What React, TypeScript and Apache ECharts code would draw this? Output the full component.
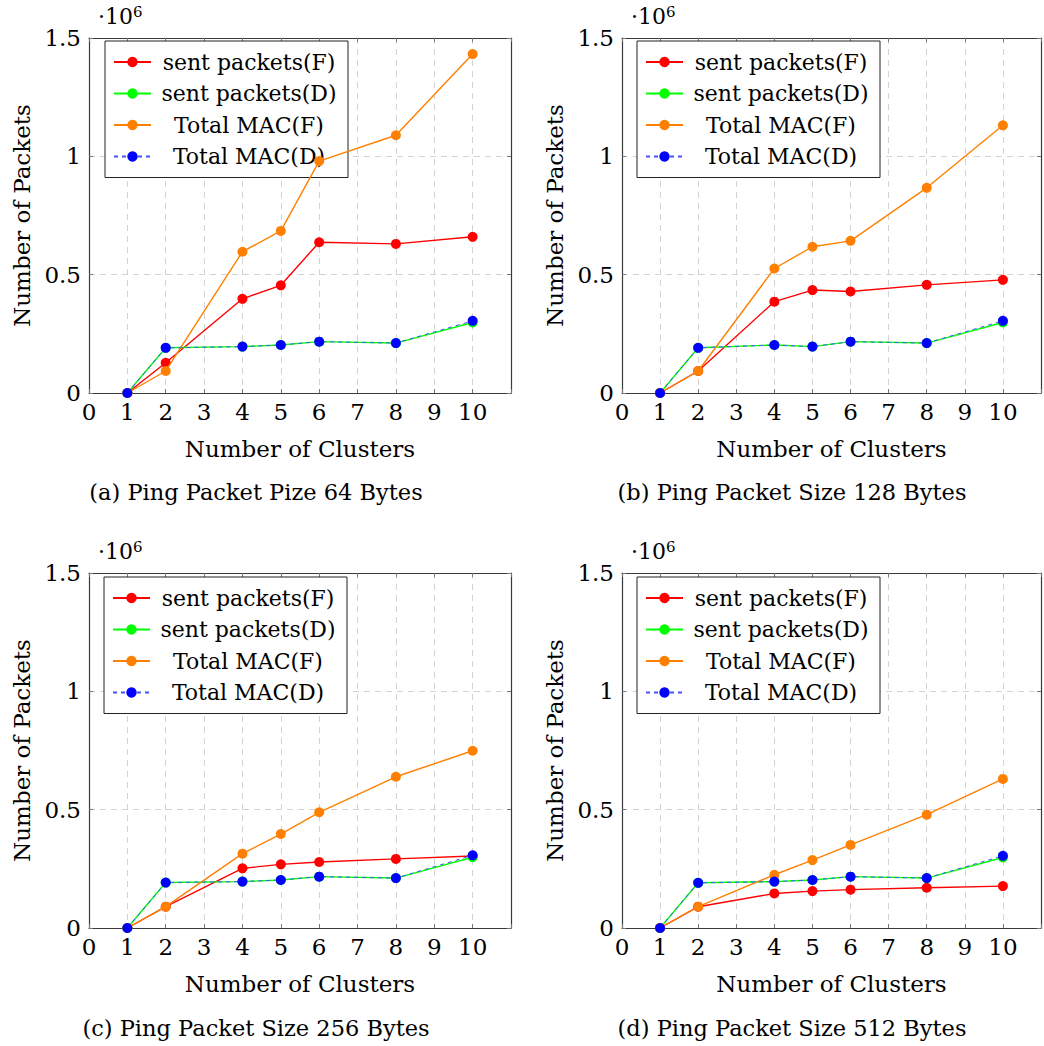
import React, { useEffect, useRef } from "react";
import * as echarts from "echarts";

const clusters = [1, 2, 4, 5, 6, 8, 10];
const xTicks = [0, 1, 2, 3, 4, 5, 6, 7, 8, 9, 10];
const yTickLabels = ["0", "0.5", "1", "1.5"];
const seriesNames = ["sent packets(F)", "sent packets(D)", "Total MAC(F)", "Total MAC(D)"];
const captions = [
  "(a) Ping Packet Pize 64 Bytes",
  "(b) Ping Packet Size 128 Bytes",
  "(c) Ping Packet Size 256 Bytes",
  "(d) Ping Packet Size 512 Bytes",
];

// values in millions of packets (·10^6)
const a_sentF = [0, 0.128, 0.398, 0.455, 0.637, 0.630, 0.660];
const a_sentD = [0, 0.191, 0.196, 0.203, 0.217, 0.211, 0.298];
const a_macF = [0, 0.093, 0.597, 0.685, 0.98, 1.089, 1.432];
const a_macD = [0, 0.191, 0.196, 0.203, 0.217, 0.211, 0.305];

const b_sentF = [0, 0.093, 0.386, 0.435, 0.429, 0.457, 0.478];
const b_sentD = [0, 0.191, 0.203, 0.196, 0.217, 0.211, 0.298];
const b_macF = [0, 0.093, 0.526, 0.618, 0.643, 0.867, 1.131];
const b_macD = [0, 0.191, 0.203, 0.196, 0.217, 0.211, 0.305];

const c_sentF = [0, 0.090, 0.252, 0.269, 0.279, 0.292, 0.304];
const c_sentD = [0, 0.192, 0.196, 0.203, 0.217, 0.211, 0.299];
const c_macF = [0, 0.090, 0.314, 0.397, 0.489, 0.639, 0.749];
const c_macD = [0, 0.192, 0.196, 0.203, 0.217, 0.211, 0.307];

const d_sentF = [0, 0.090, 0.146, 0.156, 0.162, 0.170, 0.177];
const d_sentD = [0, 0.191, 0.196, 0.203, 0.217, 0.211, 0.298];
const d_macF = [0, 0.090, 0.225, 0.287, 0.351, 0.479, 0.630];
const d_macD = [0, 0.191, 0.196, 0.203, 0.217, 0.211, 0.305];

const panels = [
  [a_sentF, a_sentD, a_macF, a_macD],
  [b_sentF, b_sentD, b_macF, b_macD],
  [c_sentF, c_sentD, c_macF, c_macD],
  [d_sentF, d_sentD, d_macF, d_macD],
];

const FONT = "DejaVu Serif";
const colors = ["#ff0000", "#00ff00", "#ff8000", "#0000ff"];

const grids = [
  { left: 89, top: 38, width: 422, height: 355 },
  { left: 622, top: 38, width: 428, height: 355 },
  { left: 89, top: 573, width: 422, height: 355 },
  { left: 622, top: 573, width: 428, height: 355 },
];
const legendPos = [
  { left: 105, top: 41 },
  { left: 637, top: 41 },
  { left: 104, top: 577 },
  { left: 637, top: 577 },
];
const captionPos = [
  [256, 492],
  [792, 492],
  [256, 1028],
  [792, 1028],
];

export default function App() {
  const ref = useRef<HTMLDivElement>(null);
  useEffect(() => {
    if (!ref.current) return;
    const chart = echarts.init(ref.current, null, { renderer: "svg" });
    const xAxes: any[] = [];
    const yAxes: any[] = [];
    const series: any[] = [];
    const legends: any[] = [];
    const graphics: any[] = [];
    const axisColor = "#3a3a3a";
    const tickStyle = { show: true, inside: true, length: 4, lineStyle: { color: "#777", width: 1 } };
    grids.forEach((g, i) => {
      xAxes.push({
        type: "value",
        gridIndex: i,
        min: 0,
        max: 11,
        interval: 1,
        name: "Number of Clusters",
        nameLocation: "middle",
        nameGap: 44,
        nameTextStyle: { fontFamily: FONT, fontSize: 23, color: "#000" },
        axisLine: { show: true, onZero: false, lineStyle: { color: axisColor, width: 1.2 } },
        axisTick: tickStyle,
        axisLabel: {
          fontFamily: FONT,
          fontSize: 23,
          color: "#000",
          margin: 7,
          formatter: (v: number) => (xTicks.indexOf(v) >= 0 ? String(v) : ""),
        },
        splitLine: { show: true, lineStyle: { color: "#d3d3d3", type: [6, 5], width: 1 } },
      });
      xAxes.push({
        type: "value",
        gridIndex: i,
        position: "top",
        min: 0,
        max: 11,
        interval: 1,
        axisLine: { show: true, onZero: false, lineStyle: { color: axisColor, width: 1.2 } },
        axisTick: tickStyle,
        axisLabel: { show: false },
        splitLine: { show: false },
      });
      yAxes.push({
        type: "value",
        gridIndex: i,
        min: 0,
        max: 1.5,
        interval: 0.5,
        name: "Number of Packets",
        nameLocation: "middle",
        nameGap: 56,
        nameTextStyle: { fontFamily: FONT, fontSize: 23, color: "#000" },
        axisLine: { show: true, onZero: false, lineStyle: { color: axisColor, width: 1.2 } },
        axisTick: tickStyle,
        axisLabel: {
          fontFamily: FONT,
          fontSize: 23,
          color: "#000",
          margin: 8,
          formatter: (v: number) => yTickLabels[Math.round(v / 0.5)] ?? "",
        },
        splitLine: { show: true, lineStyle: { color: "#d3d3d3", type: [6, 5], width: 1 } },
      });
      yAxes.push({
        type: "value",
        gridIndex: i,
        position: "right",
        min: 0,
        max: 1.5,
        interval: 0.5,
        axisLine: { show: true, onZero: false, lineStyle: { color: axisColor, width: 1.2 } },
        axisTick: tickStyle,
        axisLabel: { show: false },
        splitLine: { show: false },
      });
      panels[i].forEach((vals, k) => {
        series.push({
          type: "line",
          name: seriesNames[k],
          xAxisIndex: i * 2,
          yAxisIndex: i * 2,
          data: clusters.map((c, j) => [c, vals[j]]),
          symbol: "circle",
          symbolSize: 10,
          color: colors[k],
          itemStyle: { color: colors[k] },
          lineStyle: {
            color: k === 3 ? "#4455ff" : colors[k],
            width: k === 3 ? 1 : 1.4,
            type: k === 3 ? [4, 4] : "solid",
          },
          z: 2 + k,
        });
      });
      legends.push({
        data: seriesNames,
        orient: "vertical",
        left: legendPos[i].left,
        top: legendPos[i].top,
        padding: [10, 6, 10, 8],
        itemGap: 9.5,
        itemWidth: 37,
        itemHeight: 13,
        backgroundColor: "#fff",
        borderColor: "#222",
        borderWidth: 1,
        selectedMode: false,
        formatter: (n: string) => "{c|" + n + "}",
        textStyle: {
          fontFamily: FONT,
          fontSize: 22,
          color: "#000",
          rich: {
            c: { fontFamily: FONT, fontSize: 22, color: "#000", width: 186, align: "center", lineHeight: 25 },
          },
        },
      });
      graphics.push({
        type: "text",
        left: g.left + 9,
        top: g.top - 34,
        style: {
          text: "·10{s|6}",
          fontFamily: FONT,
          fontSize: 22,
          fill: "#000",
          rich: { s: { fontFamily: FONT, fontSize: 15, verticalAlign: "top", padding: [0, 0, 10, 0] } },
        },
      });
      graphics.push({
        type: "text",
        x: captionPos[i][0],
        y: captionPos[i][1],
        style: {
          text: captions[i],
          fontFamily: FONT,
          fontSize: 22.5,
          fill: "#000",
          align: "center",
          verticalAlign: "middle",
        },
      });
    });
    chart.setOption({
      animation: false,
      backgroundColor: "#fff",
      textStyle: { fontFamily: FONT },
      grid: grids.map((g) => ({ ...g, show: false })),
      xAxis: xAxes,
      yAxis: yAxes,
      legend: legends,
      series,
      graphic: graphics,
    });
    return () => chart.dispose();
  }, []);
  return (
    <div
      ref={ref}
      style={{ position: "absolute", left: 0, top: 0, width: 1044, height: 1046 }}
    />
  );
}
